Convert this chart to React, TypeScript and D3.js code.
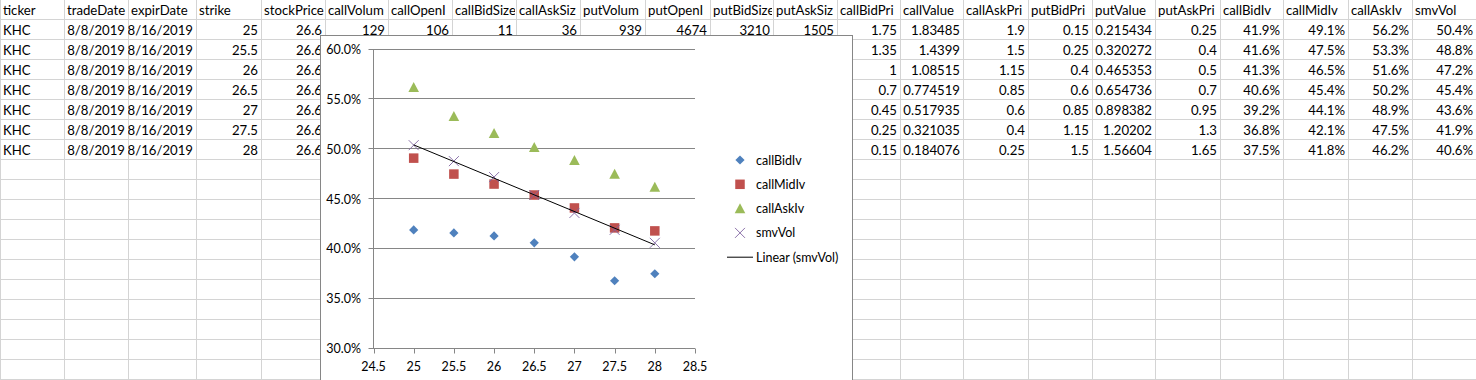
import React from "react";
import * as d3 from "d3";

// ---------- data ----------
const headers = ["ticker","tradeDate","expirDate","strike","stockPrice","callVolum","callOpenI","callBidSize","callAskSiz","putVolum","putOpenI","putBidSize","putAskSiz","callBidPri","callValue","callAskPri","putBidPri","putValue","putAskPri","callBidIv","callMidIv","callAskIv","smvVol"];
const ticker = ["KHC","KHC","KHC","KHC","KHC","KHC","KHC"];
const tradeDate = ["8/8/2019","8/8/2019","8/8/2019","8/8/2019","8/8/2019","8/8/2019","8/8/2019"];
const expirDate = ["8/16/2019","8/16/2019","8/16/2019","8/16/2019","8/16/2019","8/16/2019","8/16/2019"];
const strike = [25, 25.5, 26, 26.5, 27, 27.5, 28];
const stockPrice = [26.6, 26.6, 26.6, 26.6, 26.6, 26.6, 26.6];
const callVolume = [129];
const callOpenInterest = [106];
const callBidSize = [11];
const callAskSize = [36];
const putVolume = [939];
const putOpenInterest = [4674];
const putBidSize = [3210];
const putAskSize = [1505];
const callBidPrice = [1.75, 1.35, 1, 0.7, 0.45, 0.25, 0.15];
const callValue = [1.83485, 1.4399, 1.08515, 0.774519, 0.517935, 0.321035, 0.184076];
const callAskPrice = [1.9, 1.5, 1.15, 0.85, 0.6, 0.4, 0.25];
const putBidPrice = [0.15, 0.25, 0.4, 0.6, 0.85, 1.15, 1.5];
const putValue = [0.215434, 0.320272, 0.465353, 0.654736, 0.898382, 1.20202, 1.56604];
const putAskPrice = [0.25, 0.4, 0.5, 0.7, 0.95, 1.3, 1.65];
const callBidIv = [0.419, 0.416, 0.413, 0.406, 0.392, 0.368, 0.375];
const callMidIv = [0.491, 0.475, 0.465, 0.454, 0.441, 0.421, 0.418];
const callAskIv = [0.562, 0.533, 0.516, 0.502, 0.489, 0.475, 0.462];
const smvVol = [0.504, 0.488, 0.472, 0.454, 0.436, 0.419, 0.406];

const xTicks = [24.5, 25, 25.5, 26, 26.5, 27, 27.5, 28, 28.5];
const yTicks = [0.3, 0.35, 0.4, 0.45, 0.5, 0.55, 0.6];

const seriesNames = ["callBidIv", "callMidIv", "callAskIv", "smvVol"];
const seriesValues = [callBidIv, callMidIv, callAskIv, smvVol];
const seriesColors = ["#4F81BD", "#C0504D", "#9BBB59", "#8064A2"];
const trendLabel = "Linear (smvVol)";

// ---------- layout ----------
const W = 1476, H = 380;
const colEdges = [0, 64, 128, 196, 261, 325, 388, 452, 516, 580, 645, 710, 773, 837, 900, 963, 1028, 1092, 1155, 1220, 1283, 1348, 1412, 1476];
const ROW_H = 20;
const CELL_FONT = "Lato, 'Noto Sans', sans-serif";
const CHART_FONT = "Lato, 'Noto Sans', sans-serif";

const pct = d3.format(".1%");
const columns: (string | number)[][] = [
  ticker, tradeDate, expirDate, strike, stockPrice, callVolume, callOpenInterest, callBidSize, callAskSize,
  putVolume, putOpenInterest, putBidSize, putAskSize, callBidPrice, callValue, callAskPrice, putBidPrice,
  putValue, putAskPrice, callBidIv.map(pct), callMidIv.map(pct), callAskIv.map(pct), smvVol.map(pct),
];

function marker(i: number, cx: number, cy: number, key: string) {
  const c = seriesColors[i];
  if (i === 0) {
    const r = 4.6;
    return <path key={key} d={`M${cx},${cy - r}L${cx + r},${cy}L${cx},${cy + r}L${cx - r},${cy}Z`} fill={c} />;
  }
  if (i === 1) {
    const s = 9.5;
    return <rect key={key} x={cx - s / 2} y={cy - s / 2} width={s} height={s} fill={c} />;
  }
  if (i === 2) {
    const hw = 5.3, h = 9.5;
    return <path key={key} d={`M${cx},${cy - h / 2 - 0.5}L${cx + hw},${cy + h / 2}L${cx - hw},${cy + h / 2}Z`} fill={c} />;
  }
  const r = 5;
  return <path key={key} d={`M${cx - r},${cy - r}L${cx + r},${cy + r}M${cx + r},${cy - r}L${cx - r},${cy + r}`} stroke={c} strokeWidth={0.9} fill="none" />;
}

export default function App() {
  const nRows = Math.ceil(H / ROW_H);
  const box = { x: 320.5, y: 35.5, w: 532, h: 360 };
  const x = d3.scaleLinear().domain([24.5, 28.5]).range([373.5, 695]);
  const y = d3.scaleLinear().domain([0.3, 0.6]).range([348.5, 49.5]);

  // linear trend of smvVol
  const mx = d3.mean(strike)!;
  const my = d3.mean(smvVol)!;
  const slope = d3.sum(strike, (s, i) => (s - mx) * (smvVol[i] - my)) / d3.sum(strike, (s) => (s - mx) ** 2);
  const icpt = my - slope * mx;
  const [x0, x1] = d3.extent(strike) as [number, number];

  const legendX = 740, legendY0 = 160, legendDy = 24.3;

  return (
    <svg width={W} height={H} style={{ position: "fixed", left: 0, top: 0, background: "#fff" }} xmlns="http://www.w3.org/2000/svg">
      <defs>
        {colEdges.slice(0, -1).map((e, ci) => (
          <clipPath id={`cc${ci}`} key={ci}>
            <rect x={e} y={0} width={colEdges[ci + 1] - e - 1} height={H} />
          </clipPath>
        ))}
      </defs>
      <rect width={W} height={H} fill="#fff" />
      {d3.range(1, nRows + 1).map((r) => (
        <line key={"h" + r} x1={0} x2={W} y1={r * ROW_H - 0.5} y2={r * ROW_H - 0.5} stroke="#D4D4D4" />
      ))}
      {colEdges.map((e, i) => (
        <line key={"v" + i} x1={e + 0.5} x2={e + 0.5} y1={0} y2={H} stroke="#D4D4D4" />
      ))}
      <g fontFamily={CELL_FONT} fontSize={13.2} fill="#000">
        {headers.map((h, ci) => (
          <text key={"hd" + ci} x={colEdges[ci] + 3} y={14.5} clipPath={`url(#cc${ci})`}>{h}</text>
        ))}
        {columns.map((col, ci) =>
          col.map((v, ri) => (
            <text key={ci + "-" + ri} x={ci === 0 ? colEdges[ci] + 3 : colEdges[ci + 1] - 3}
              y={(ri + 1) * ROW_H + 14.5} textAnchor={ci === 0 ? "start" : "end"} clipPath={`url(#cc${ci})`}>
              {String(v)}
            </text>
          ))
        )}
      </g>
      <rect x={box.x} y={box.y} width={box.w} height={box.h} fill="#fff" stroke="#868686" />
      <g fontFamily={CHART_FONT} fontSize={12.5} fill="#000">
        {yTicks.map((t) => (
          <g key={"yt" + t}>
            <line x1={x.range()[0] - 5} x2={x.range()[1]} y1={Math.round(y(t)) - 0.5} y2={Math.round(y(t)) - 0.5} stroke="#868686" />
            <text x={361} y={y(t) + 4.5} textAnchor="end">{d3.format(".1%")(t)}</text>
          </g>
        ))}
        <line x1={x.range()[0]} x2={x.range()[0]} y1={y(0.6)} y2={y(0.3)} stroke="#868686" />
        {xTicks.map((t) => (
          <g key={"xt" + t}>
            <line x1={Math.round(x(t)) + 0.5} x2={Math.round(x(t)) + 0.5} y1={y(0.3)} y2={y(0.3) + 5} stroke="#868686" />
            <text x={x(t)} y={370.5} textAnchor="middle">{String(t)}</text>
          </g>
        ))}
        {seriesValues.map((vals, si) =>
          vals.map((v, i) => marker(si, x(strike[i]), y(v), si + "-" + i))
        )}
        <line x1={x(x0)} y1={y(icpt + slope * x0)} x2={x(x1)} y2={y(icpt + slope * x1)} stroke="#000" strokeWidth={1} />
        {seriesNames.map((n, si) => (
          <g key={"lg" + n}>
            {marker(si, legendX, legendY0 + si * legendDy, "lm" + si)}
            <text x={756} y={legendY0 + si * legendDy + 4.5}>{n}</text>
          </g>
        ))}
        <line x1={727} x2={753} y1={legendY0 + 4 * legendDy} y2={legendY0 + 4 * legendDy} stroke="#000" />
        <text x={756} y={legendY0 + 4 * legendDy + 4.5}>{trendLabel}</text>
      </g>
    </svg>
  );
}
